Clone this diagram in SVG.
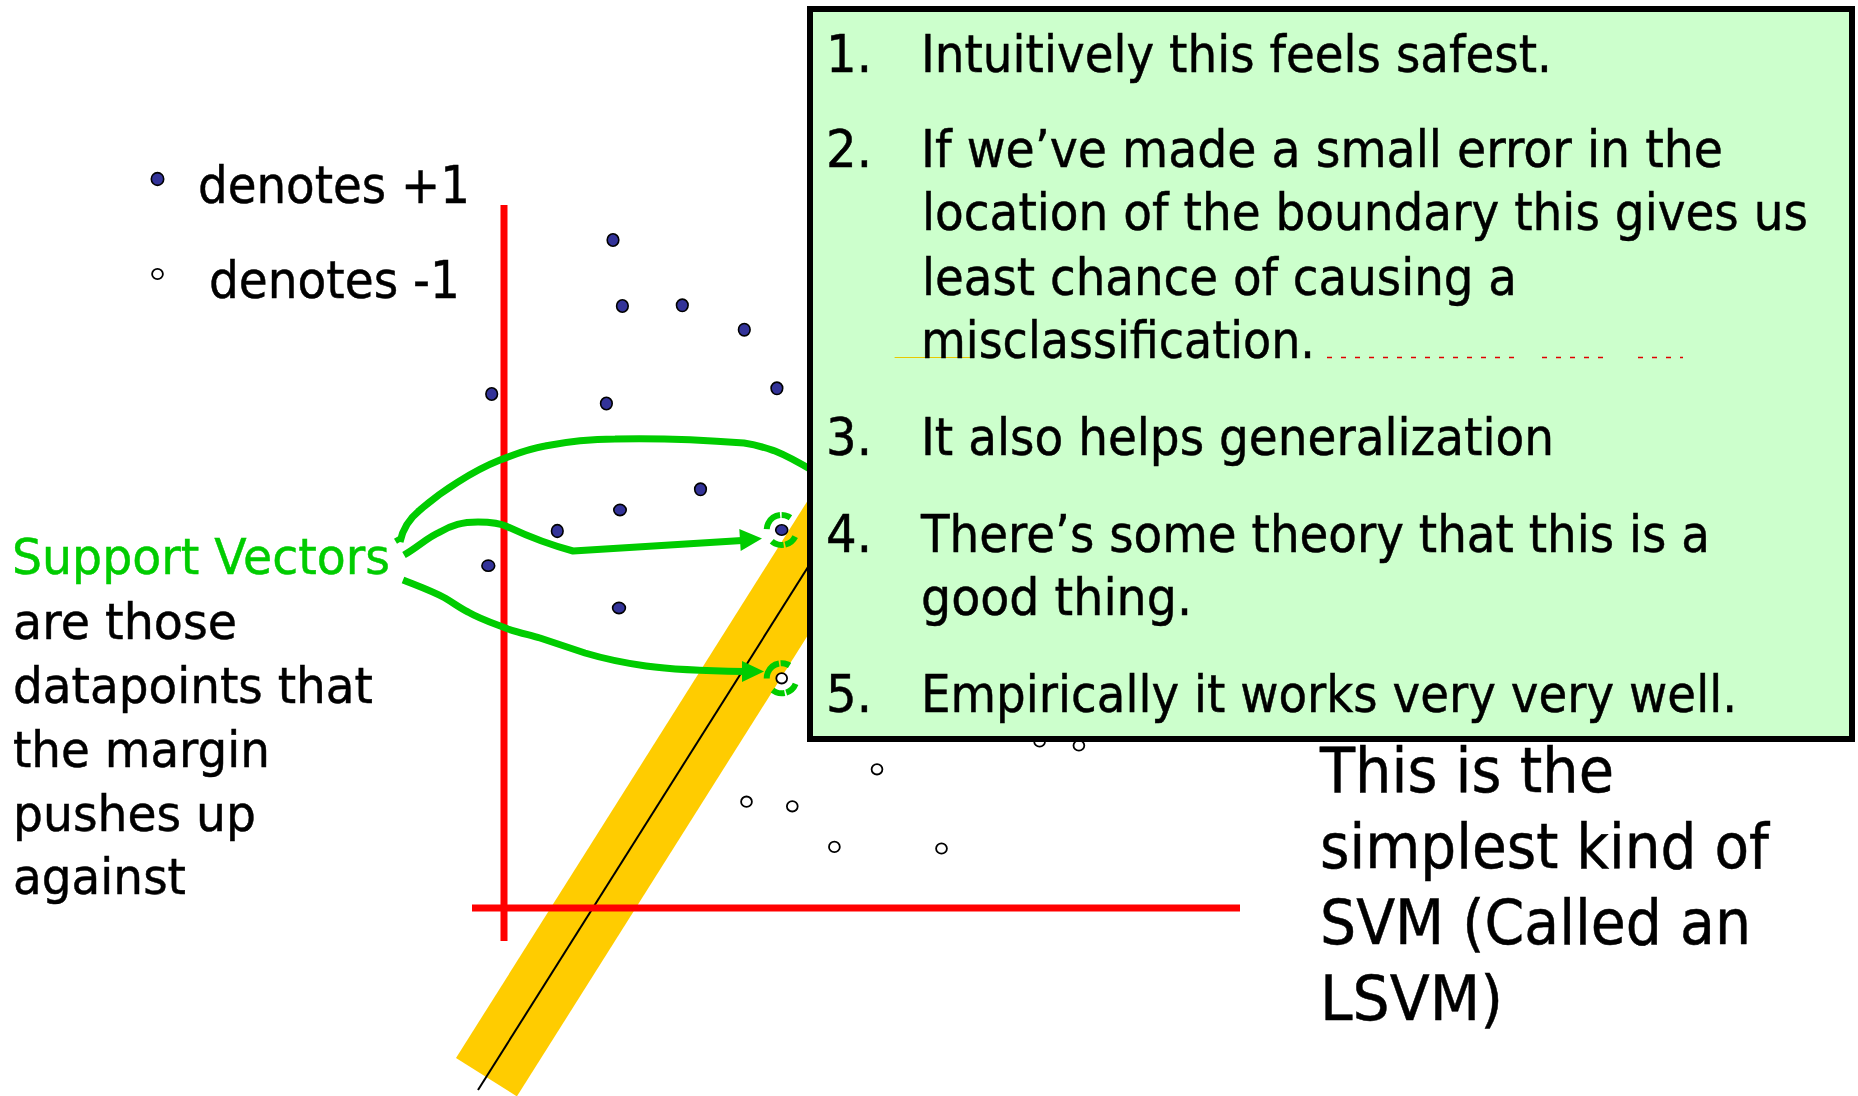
<svg xmlns="http://www.w3.org/2000/svg" width="1858" height="1096" viewBox="0 0 1858 1096">
<defs>
<style>
text{font-family:"DejaVu Sans","Liberation Sans",sans-serif;fill:#000;stroke:#000;stroke-width:0.5}
.lg{font-size:52px}
.bx{font-size:52px}
.lt{font-size:50px}
.rt{font-size:62px}
.sv{fill:#00CC00;stroke:#00CC00}
.pos{fill:#333399;stroke:#000;stroke-width:1.6}
.neg{fill:#fff;stroke:#000;stroke-width:1.8}
.red{stroke:#FF0000;stroke-width:7;fill:none}
.grn{stroke:#00CC00;stroke-width:7;fill:none;stroke-linejoin:round}
.ring{stroke:#00CC00;stroke-width:6;fill:none;stroke-dasharray:13.1 1.6 12.8 13.4 20.9 1.6 9.4 21.5}
.head{fill:#00CC00}
</style>
</defs>
<rect width="1858" height="1096" fill="#fff"/>

<g id="margin-band">
<polygon points="456,1058 516.9,1096.4 997.1,335.3 936.2,296.9" fill="#FFCC00"/>
<line x1="478" y1="1090" x2="982.8" y2="290" stroke="#000" stroke-width="2"/>
</g>

<g id="axes">
<line class="red" x1="504" y1="205" x2="504" y2="941"/>
<line class="red" x1="472" y1="908" x2="1240" y2="908"/>
</g>

<g id="legend">
<ellipse class="pos" cx="157.5" cy="179" rx="6.2" ry="6.4"/>
<text class="lg" x="198" y="203" textLength="272" lengthAdjust="spacingAndGlyphs">denotes +1</text>
<ellipse class="neg" cx="157.5" cy="274" rx="5.4" ry="5.2"/>
<text class="lg" x="209" y="298" textLength="251" lengthAdjust="spacingAndGlyphs">denotes -1</text>
</g>

<g id="positive-points">
<ellipse class="pos" cx="613" cy="240" rx="5.8" ry="6.2"/>
<ellipse class="pos" cx="622.4" cy="306" rx="5.8" ry="6.2"/>
<ellipse class="pos" cx="682.3" cy="305.3" rx="5.8" ry="6.2"/>
<ellipse class="pos" cx="744.3" cy="329.7" rx="5.8" ry="6.2"/>
<ellipse class="pos" cx="491.7" cy="394" rx="5.8" ry="6.2"/>
<ellipse class="pos" cx="606.4" cy="403.5" rx="5.8" ry="6.2"/>
<ellipse class="pos" cx="776.9" cy="388.3" rx="5.8" ry="6.2"/>
<ellipse class="pos" cx="700.5" cy="489.3" rx="5.8" ry="6.2"/>
<ellipse class="pos" cx="620" cy="510" rx="6.2" ry="5.6"/>
<ellipse class="pos" cx="557.3" cy="531" rx="5.8" ry="6.4"/>
<ellipse class="pos" cx="488.3" cy="565.7" rx="6.4" ry="5.6"/>
<ellipse class="pos" cx="619" cy="608" rx="6.4" ry="5.6"/>
<ellipse class="pos" cx="781.7" cy="530" rx="6" ry="5.2"/>
</g>

<g id="negative-points">
<ellipse class="neg" cx="781.7" cy="678.3" rx="5.4" ry="5.2"/>
<ellipse class="neg" cx="1039.6" cy="741.5" rx="5.4" ry="5.2"/>
<ellipse class="neg" cx="1078.9" cy="745.5" rx="5.4" ry="5.2"/>
<ellipse class="neg" cx="877" cy="769.3" rx="5.4" ry="5.2"/>
<ellipse class="neg" cx="746.5" cy="801.7" rx="5.4" ry="5.2"/>
<ellipse class="neg" cx="792.3" cy="806.3" rx="5.4" ry="5.2"/>
<ellipse class="neg" cx="834.4" cy="846.9" rx="5.4" ry="5.2"/>
<ellipse class="neg" cx="941.5" cy="848.5" rx="5.4" ry="5.2"/>
</g>

<g id="connectors">
<path class="grn" d="M397,537 L400,542 M400,542 C403,527 410,518 420,510 C435,497 445,490 458,482 C472,473 485,466 500,460 C515,454 528,449 545,446 C575,440 595,439 615,439 C660,438 705,440 744,443 C758,445 766,448 775,451 C790,457 800,463 815,472"/>
<path class="grn" d="M404,555 C418,547 428,537 440,532 C452,525 462,522 478,522 C492,522 500,523 508,527 C525,535 550,545 573,551 L742,540.6"/>
<polygon class="head" points="762,538.5 740.7,551 739.3,529"/>
<path class="grn" d="M403,580 C418,586 432,591 445,598 C455,604 460,608 468,612 C480,619 495,624 508,629 C520,633 530,635 540,638 C555,643 570,648 585,653 C605,659 625,663 646,666 C675,670 710,671 744,671.5"/>
<polygon class="head" points="764,671.5 742,661 742,682"/>
<circle class="ring" cx="781.7" cy="530" r="15" transform="rotate(26 781.7 530)"/>
<circle class="ring" cx="781.7" cy="678.3" r="15" transform="rotate(22 781.7 678.3)"/>
</g>

<g id="left-label">
<text class="lt sv" x="12" y="574" textLength="378" lengthAdjust="spacingAndGlyphs">Support Vectors</text>
<text class="lt" x="13" y="639" textLength="224" lengthAdjust="spacingAndGlyphs">are those</text>
<text class="lt" x="13" y="703" textLength="360" lengthAdjust="spacingAndGlyphs">datapoints that</text>
<text class="lt" x="13" y="767" textLength="257" lengthAdjust="spacingAndGlyphs">the margin</text>
<text class="lt" x="13" y="831" textLength="243" lengthAdjust="spacingAndGlyphs">pushes up</text>
<text class="lt" x="13" y="894" textLength="173" lengthAdjust="spacingAndGlyphs">against</text>
</g>

<g id="reasons-box">
<rect x="810" y="9" width="1042" height="730" fill="#CCFFCC" stroke="#000" stroke-width="6"/>
<line x1="894.6" y1="357.5" x2="974" y2="357.5" stroke="#E8C800" stroke-width="1.2"/>
<path d="M1327,357.5 H1515 M1542,357.5 H1612 M1638,357.5 H1683" stroke="#E00000" stroke-width="1.3" stroke-dasharray="5 9" fill="none"/>
<text class="bx" x="826" y="72" textLength="46" lengthAdjust="spacingAndGlyphs">1.</text>
<text class="bx" x="921" y="72" textLength="631" lengthAdjust="spacingAndGlyphs">Intuitively this feels safest.</text>
<text class="bx" x="826" y="167" textLength="46" lengthAdjust="spacingAndGlyphs">2.</text>
<text class="bx" x="921" y="167" textLength="802" lengthAdjust="spacingAndGlyphs">If we’ve made a small error in the</text>
<text class="bx" x="922" y="230" textLength="886" lengthAdjust="spacingAndGlyphs">location of the boundary this gives us</text>
<text class="bx" x="922" y="295" textLength="595" lengthAdjust="spacingAndGlyphs">least chance of causing a</text>
<text class="bx" x="921" y="358" textLength="394" lengthAdjust="spacingAndGlyphs">misclassification.</text>
<text class="bx" x="826" y="455" textLength="46" lengthAdjust="spacingAndGlyphs">3.</text>
<text class="bx" x="921" y="455" textLength="633" lengthAdjust="spacingAndGlyphs">It also helps generalization</text>
<text class="bx" x="826" y="552" textLength="46" lengthAdjust="spacingAndGlyphs">4.</text>
<text class="bx" x="921" y="552" textLength="789" lengthAdjust="spacingAndGlyphs">There’s some theory that this is a</text>
<text class="bx" x="921" y="615" textLength="271" lengthAdjust="spacingAndGlyphs">good thing.</text>
<text class="bx" x="826" y="712" textLength="46" lengthAdjust="spacingAndGlyphs">5.</text>
<text class="bx" x="921" y="712" textLength="816" lengthAdjust="spacingAndGlyphs">Empirically it works very very well.</text>
</g>

<g id="right-label">
<text class="rt" x="1320" y="792" textLength="294" lengthAdjust="spacingAndGlyphs">This is the</text>
<text class="rt" x="1320" y="868" textLength="449" lengthAdjust="spacingAndGlyphs">simplest kind of</text>
<text class="rt" x="1320" y="944" textLength="431" lengthAdjust="spacingAndGlyphs">SVM (Called an</text>
<text class="rt" x="1320" y="1020" textLength="183" lengthAdjust="spacingAndGlyphs">LSVM)</text>
</g>
</svg>
